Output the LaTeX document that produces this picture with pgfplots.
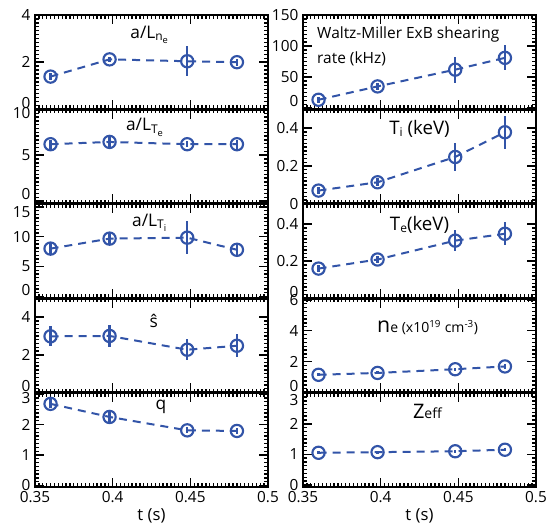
\documentclass[border=0pt]{standalone}
\usepackage{fontspec}
\setmainfont{Open Sans}
\usepackage{pgfplots}
\pgfplotsset{compat=1.18}
\definecolor{wm}{RGB}{50,84,168}
\pgfplotsset{
  panel/.style={
    scale only axis, width=174.75pt, height=70.8pt,
    anchor=south west, clip=false,
    xmin=0.35, xmax=0.5, xtick={0.35,0.4,0.45,0.5},
    minor x tick num=19,
    axis line style={line width=2.2pt},
    tick label style={font=\fontsize{11.5}{13}\selectfont},
    /pgf/number format/assume math mode=true,
  },
  notx/.style={xticklabels={}},
  bottom/.style={xlabel={t (s)}, xlabel style={font=\fontsize{12.5}{14}\selectfont, yshift=3pt}},
  ser/.style={wm, line width=1.5pt, dash pattern=on 6pt off 4.5pt,
    mark=o, mark size=4.6pt, mark options={solid, line width=1.6pt},
    error bars/.cd, y dir=both, y explicit, error mark=none,
    error bar style={wm, solid, line width=1.6pt}},
}
\tikzset{lab/.style={font=\fontsize{13}{15}\selectfont}}
\newcommand{\sm}[1]{{\fontsize{9}{9}\selectfont #1}}
\newcommand{\ssm}[1]{{\fontsize{7}{7}\selectfont #1}}
\newcommand{\up}[1]{\raisebox{5pt}[\height][\depth]{#1}}
\newcommand{\dn}[2]{\raisebox{-#1}[\height][\depth]{#2}}
\begin{document}
\begin{tikzpicture}
\useasboundingbox (-26.25pt,-33pt) rectangle (387pt,365.25pt);
% ---------- left column ----------
\begin{axis}[panel, notx, at={(0,283.2pt)}, ymin=0, ymax=4, ytick={0,2,4}, yticklabels={\up{0},2,4}, minor y tick num=11,
  tick style={black, line width=1.2pt}, minor tick style={black, line width=1pt}, major tick length=7pt, minor tick length=3pt]
\addplot+[ser] coordinates {(0.36,1.39) +- (0,0.15) (0.398,2.12) +- (0,0.12) (0.448,2.04) +- (0,0.63) (0.48,2.0) +- (0,0.15)};
\node[lab] at (rel axis cs:0.49,0.79) {a/L\raisebox{-0.25ex}{\sm{n}\raisebox{-0.35ex}{\ssm{e}}}};
\end{axis}
\begin{axis}[panel, notx, at={(0,212.4pt)}, ymin=-0.3, ymax=10, ytick={0,5,10}, yticklabels={\up{0},5,\dn{3pt}{10}}, minor y tick num=11,
  tick style={black, line width=1.2pt}, minor tick style={black, line width=1pt}, major tick length=7pt, minor tick length=3pt]
\addplot+[ser] coordinates {(0.36,6.2) +- (0,0.5) (0.398,6.45) +- (0,0.6) (0.448,6.2) +- (0,0.3) (0.48,6.2) +- (0,0.5)};
\node[lab] at (rel axis cs:0.47,0.81) {a/L\raisebox{-0.25ex}{\sm{T}\raisebox{-0.35ex}{\ssm{e}}}};
\end{axis}
\begin{axis}[panel, notx, at={(0,141.6pt)}, ymin=-0.3, ymax=15.5, ytick={0,5,10,15}, yticklabels={\up{0},5,10,\dn{4pt}{15}}, minor y tick num=7,
  tick style={black, line width=1.2pt}, minor tick style={black, line width=1pt}, major tick length=7pt, minor tick length=3pt]
\addplot+[ser] coordinates {(0.36,8.0) +- (0,0.9) (0.398,9.67) +- (0,0.9) (0.448,9.83) +- (0,2.8) (0.48,7.8) +- (0,0.8)};
\node[lab] at (rel axis cs:0.49,0.8) {a/L\raisebox{-0.25ex}{\sm{T}\raisebox{-0.35ex}{\ssm{i}}}};
\end{axis}
\begin{axis}[panel, notx, at={(0,70.8pt)}, ymin=0, ymax=5, ytick={0,2,4}, yticklabels={\up{0},2,4}, minor y tick num=9,
  tick style={black, line width=1.2pt}, minor tick style={black, line width=1pt}, major tick length=7pt, minor tick length=3pt]
\addplot+[ser] coordinates {(0.36,2.98) +- (0,0.53) (0.398,3.0) +- (0,0.6) (0.448,2.27) +- (0,0.57) (0.48,2.48) +- (0,0.6)};
\node[lab] at (rel axis cs:0.51,0.76) {\^{s}};
\end{axis}
\begin{axis}[panel, bottom, at={(0,0pt)}, ymin=-0.05, ymax=3.05, ytick={0,1,2,3}, yticklabels={0,1,2,\dn{3pt}{3}}, minor y tick num=7,
  tick style={black, line width=1.2pt}, minor tick style={black, line width=1pt}, major tick length=7pt, minor tick length=3pt]
\addplot+[ser] coordinates {(0.36,2.68) +- (0,0.15) (0.398,2.25) +- (0,0.15) (0.448,1.81) +- (0,0.1) (0.48,1.79) +- (0,0.1)};
\node[lab] at (rel axis cs:0.54,0.85) {q};
\end{axis}
% ---------- right column ----------
\begin{axis}[panel, notx, at={(201pt,283.2pt)}, ymin=-2, ymax=150, ytick={0,50,100,150}, yticklabels={\up{0},50,100,150}, minor y tick num=7,
  tick style={black, line width=1.2pt}, minor tick style={black, line width=1pt}, major tick length=7pt, minor tick length=3pt]
\addplot+[ser] coordinates {(0.36,13.5) +- (0,5) (0.398,35) +- (0,5) (0.448,62) +- (0,21) (0.48,81) +- (0,20)};
\node[anchor=base west, inner sep=0pt, font=\fontsize{11.6}{13}\selectfont] at (rel axis cs:0.06,0.752) {Waltz-Miller ExB shearing};
\node[anchor=base west, inner sep=0pt, font=\fontsize{11.6}{13}\selectfont] at (rel axis cs:0.06,0.486) {rate (kHz)};
\end{axis}
\begin{axis}[panel, notx, at={(201pt,212.4pt)}, ymin=0, ymax=0.5, ytick={0,0.2,0.4}, minor y tick num=9,
  tick style={black, line width=1.2pt}, minor tick style={black, line width=1pt}, major tick length=7pt, minor tick length=3pt]
\addplot+[ser] coordinates {(0.36,0.07) +- (0,0.02) (0.398,0.114) +- (0,0.02) (0.448,0.248) +- (0,0.076) (0.48,0.379) +- (0,0.087)};
\node[font=\fontsize{14}{16}\selectfont] at (rel axis cs:0.5,0.79) {T\raisebox{-0.2ex}{\sm{i}} (keV)};
\end{axis}
\begin{axis}[panel, notx, at={(201pt,141.6pt)}, ymin=0, ymax=0.51, ytick={0,0.2,0.4}, yticklabels={\up{0},0.2,0.4}, minor y tick num=9,
  tick style={black, line width=1.2pt}, minor tick style={black, line width=1pt}, major tick length=7pt, minor tick length=3pt]
\addplot+[ser] coordinates {(0.36,0.16) +- (0,0.02) (0.398,0.209) +- (0,0.02) (0.448,0.311) +- (0,0.055) (0.48,0.348) +- (0,0.063)};
\node[font=\fontsize{14}{16}\selectfont] at (rel axis cs:0.5,0.78) {T\raisebox{-0.2ex}{\sm{e}}(keV)};
\end{axis}
\begin{axis}[panel, notx, at={(201pt,70.8pt)}, ymin=0, ymax=6.1, ytick={0,2,4,6}, yticklabels={\up{0},2,4,6}, minor y tick num=7,
  tick style={black, line width=1.2pt}, minor tick style={black, line width=1pt}, major tick length=7pt, minor tick length=3pt]
\addplot+[ser] coordinates {(0.36,1.15) +- (0,0.1) (0.398,1.27) +- (0,0.1) (0.448,1.51) +- (0,0.1) (0.48,1.69) +- (0,0.15)};
\node[font=\fontsize{16}{17}\selectfont] at (rel axis cs:0.535,0.69) {n{\fontsize{10.5}{11}\selectfont e (x10\textsuperscript{19} cm\textsuperscript{-3})}};
\end{axis}
\begin{axis}[panel, bottom, at={(201pt,0pt)}, ymin=-0.07, ymax=3.02, ytick={0,1,2,3}, yticklabels={0,1,2,\dn{5pt}{3}}, minor y tick num=7,
  tick style={black, line width=1.2pt}, minor tick style={black, line width=1pt}, major tick length=7pt, minor tick length=3pt]
\addplot+[ser] coordinates {(0.36,1.05) +- (0,0.05) (0.398,1.07) +- (0,0.05) (0.448,1.1) +- (0,0.05) (0.48,1.15) +- (0,0.05)};
\node[font=\fontsize{15}{16}\selectfont] at (rel axis cs:0.534,0.8) {Z{\fontsize{10.5}{11}\selectfont eff}};
\end{axis}
\end{tikzpicture}
\end{document}
